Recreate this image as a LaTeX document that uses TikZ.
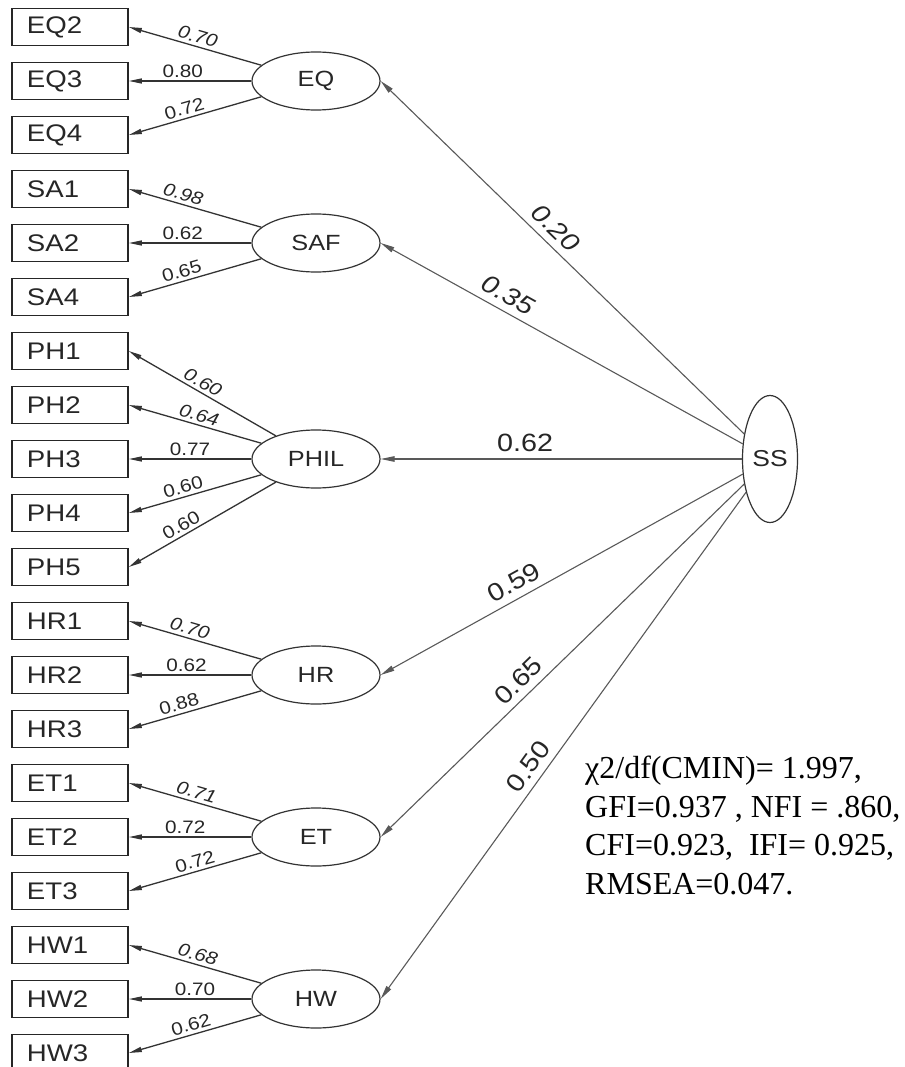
\documentclass[tikz,border=0pt]{standalone}
\usepackage{fontspec}
\setmainfont{Liberation Serif}
\newfontfamily\semfont[FakeStretch=1.15]{Liberation Sans}
\usetikzlibrary{shapes.geometric,arrows.meta}

\begin{document}
\begin{tikzpicture}[
    x=1pt, y=-1pt,
    item/.style={draw=black!85, line width=1.6pt, rectangle, minimum height=37pt, text width=86pt, inner xsep=15pt, inner ysep=0pt, align=left, text=black!85, font=\semfont\fontsize{24}{24}\selectfont},
    factor/.style={draw=black!80, line width=1.2pt, ellipse, minimum width=128pt, minimum height=58pt, inner sep=0pt, text=black!85, font=\semfont\fontsize{22}{22}\selectfont},
    higher/.style={factor, minimum width=55pt, minimum height=127pt, font=\semfont\fontsize{23}{23}\selectfont},
    loading/.style={draw=black!80, line width=1.3pt, {Triangle[length=13pt,width=5pt]}-},
    effect/.style={draw=black!65, line width=1.1pt, {Triangle[length=14pt,width=5.5pt]}-},
    lab/.style={above=2pt, sloped, inner sep=1pt, text=black!85, font=\semfont\fontsize{18}{18}\selectfont},
    tilt/.style={lab, font=\semfont\itshape\fontsize{18}{18}\selectfont},
    big/.style={above=6pt, sloped, inner sep=1pt, text=black!85, font=\semfont\fontsize{25}{25}\selectfont},
    bigtilt/.style={big, font=\semfont\itshape\fontsize{25}{25}\selectfont}
]
    \useasboundingbox (0,0) rectangle (904,1067);

    % Indicators
    \foreach \n [count=\i from 0] in {EQ2,EQ3,EQ4,SA1,SA2,SA4,PH1,PH2,PH3,PH4,PH5,HR1,HR2,HR3,ET1,ET2,ET3,HW1,HW2,HW3}
        \node[item] (\n) at (70,{27+54*\i}) {\n};

    % Factors
    \foreach \n/\y in {EQ/81,SAF/243,PHIL/459,HR/675,ET/837,HW/999}
        \node[factor] (\n) at (316,\y) {\n};
    \node[higher] (SS) at (770,459) {SS};

    % Loadings
    \foreach \f/\n/\v/\p/\s in {EQ/EQ2/0.70/.50/tilt, EQ/EQ3/0.80/.44/lab, EQ/EQ4/0.72/.44/lab,
            SAF/SA1/0.98/.39/tilt, SAF/SA2/0.62/.44/lab, SAF/SA4/0.65/.42/lab,
            PHIL/PH1/0.60/.47/tilt, PHIL/PH2/0.64/.51/tilt, PHIL/PH3/0.77/.50/lab, PHIL/PH4/0.60/.43/lab, PHIL/PH5/0.60/.39/lab,
            HR/HR1/0.70/.44/tilt, HR/HR2/0.62/.47/lab, HR/HR3/0.88/.40/lab,
            ET/ET1/0.71/.49/tilt, ET/ET2/0.72/.46/lab, ET/ET3/0.72/.52/lab,
            HW/HW1/0.68/.50/tilt, HW/HW2/0.70/.54/lab, HW/HW3/0.62/.49/lab}
        \draw[loading] (\n.east) -- node[\s, pos=\p] {\v} (\f);

    % Second order paths
    \foreach \f/\v/\p/\s in {EQ/0.20/.45/bigtilt, SAF/0.35/.33/bigtilt, PHIL/0.62/.40/big, HR/0.59/.39/big, ET/0.65/.41/big, HW/0.50/.44/big}
        \draw[effect] (\f.east) -- node[\s, pos=\p] {\v} (SS);

    % Fit indices
    \node[anchor=north west, inner sep=0pt, align=left, font=\fontsize{32}{38.5}\selectfont] (fit) at (585,756)
        {χ2/df(CMIN)= 1.997,\\ GFI=0.937 , NFI = .860,\\ CFI=0.923,\ \ IFI= 0.925,\\ RMSEA=0.047.};
\end{tikzpicture}
\end{document}
